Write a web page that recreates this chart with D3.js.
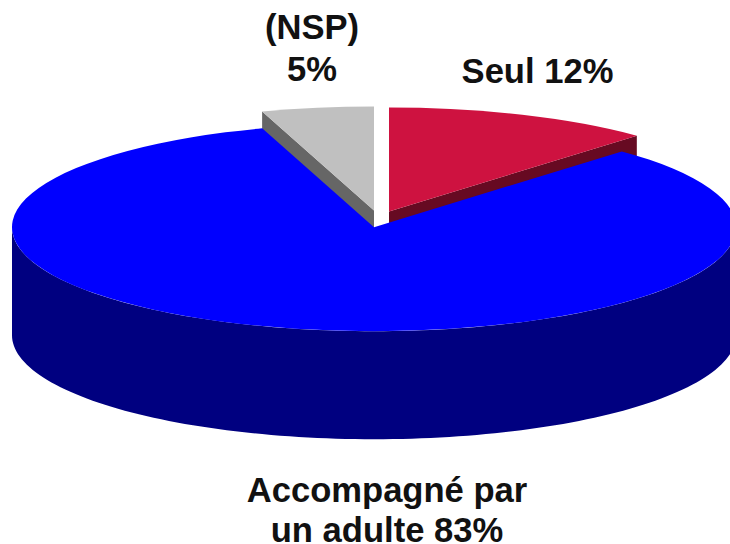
<!DOCTYPE html>
<html><head><meta charset="utf-8">
<style>html,body{margin:0;padding:0;background:#fff}svg{display:block}text{font-family:"Liberation Sans",Arial,sans-serif;font-weight:700;fill:#111;text-anchor:middle}</style>
<script src="https://cdn.jsdelivr.net/npm/d3@7"></script></head><body>
<script>
const categories = ["Seul", "Accompagné par un adulte", "(NSP)"];
const values = [12, 83, 5];
const topColors = ["#CE1240", "#0000FF", "#C0C0C0"];
const sideColors = ["#670A22", "#000080", "#666666"];
const labelLines = [["Seul 12%"], ["Accompagné par", "un adulte 83%"], ["(NSP)", "5%"]];

const W = 730, H = 544, rx = 362, ry = 104, depth = 108;
const centers = [[389, 211.5], [374, 227.2], [374, 210.5]];
const labelPos = [[537.5, 82.5], [387, 501.5], [312, 39]];
const lineGaps = [0, 40, 42];
const svg = d3.select("body").append("svg").attr("width", W).attr("height", H).attr("viewBox", `0 0 ${W} ${H}`);
const slices = d3.pie().sort(null).value(d => d)(values);
const arc = d3.arc().innerRadius(0).outerRadius(rx);
const px = (i, a) => centers[i][0] + rx * Math.sin(a);
const py = (i, a) => centers[i][1] - ry * Math.cos(a);
const wall = d3.line().x(d => d[0]).y(d => d[1]);

function radialWall(i, a) {
  const [cx, cy] = centers[i];
  return wall([[cx, cy], [px(i, a), py(i, a)], [px(i, a), py(i, a) + depth], [cx, cy + depth]]) + "Z";
}
function rimWall(i, a0, a1) {
  const as = d3.range(0, 121).map(k => a0 + (a1 - a0) * k / 120);
  const up = as.map(a => [px(i, a), py(i, a)]);
  const down = as.slice().reverse().map(a => [px(i, a), py(i, a) + depth]);
  return wall(up.concat(down)) + "Z";
}
function drawTop(i) {
  svg.append("path").attr("d", arc(slices[i])).attr("fill", topColors[i])
    .attr("transform", `translate(${centers[i][0]},${centers[i][1]}) scale(1,${ry / rx})`);
}
// back slices: grey and red
svg.append("path").attr("d", radialWall(2, slices[2].startAngle)).attr("fill", sideColors[2]);
svg.append("path").attr("d", radialWall(0, slices[0].endAngle)).attr("fill", sideColors[0]);
drawTop(2); drawTop(0);
// front slice: blue wall (visible front half) and top
const a0 = Math.max(slices[1].startAngle, Math.PI / 2), a1 = Math.min(slices[1].endAngle, 3 * Math.PI / 2);
svg.append("path").attr("d", rimWall(1, a0, a1)).attr("fill", sideColors[1]);
drawTop(1);
// labels
labelLines.forEach((lines, i) => lines.forEach((t, j) => {
  svg.append("text").attr("x", labelPos[i][0]).attr("y", labelPos[i][1] + j * lineGaps[i])
    .attr("font-size", 34.6).text(t);
}));
</script></body></html>
